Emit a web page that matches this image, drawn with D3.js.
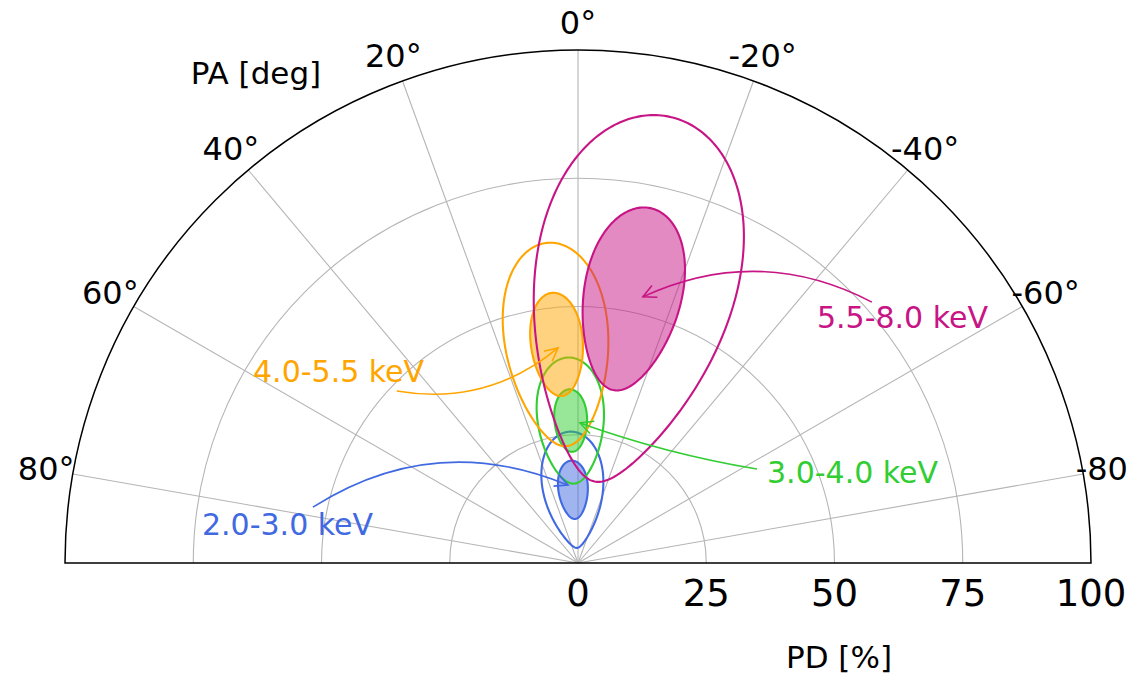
<!DOCTYPE html>
<html>
<head>
<meta charset="utf-8">
<script src="https://cdn.jsdelivr.net/npm/d3@7"></script>
<style>
  html, body { margin: 0; padding: 0; background: #fff; }
  svg { display: block; font-family: "DejaVu Sans", "Liberation Sans", sans-serif; }
</style>
</head>
<body>
<svg id="chart" width="1127" height="675"></svg>
<script>
// ---- data -------------------------------------------------------------
// energy bands and their colours
const bands = ["2.0-3.0 keV", "3.0-4.0 keV", "4.0-5.5 keV", "5.5-8.0 keV"];
const bandColors = ["royalblue", "limegreen", "orange", "mediumvioletred"];

// best-fit polarization degree [%] and angle [deg] per band
const pdBest = [14.3, 27.8, 42.8, 52.5];
const paBest = [3.8, 2.9, 5.5, -11.5];
// contour radii in Q/U space [%]: 68% (filled) and 99% (line), along PD
const sigma68 = [5.7, 6.1, 10.1, 18.1];
const sigma99 = [11.35, 12.3, 19.9, 36.3];
// ratio of the error across the PD direction to the error along it
const sigmaRatio = [1.0, 1.04, 1.0, 1.04];

// annotation arrows (PD, PA): arrow tip, arrow tail, label anchor (left, baseline)
const tipPD   = [15.3, 27.3, 42.1, 53.4];
const tipPA   = [7.3, -0.8, 5.3, -13.7];
const tailPD  = [52.8, 39.4, 48.7, 76.6];
const tailPA  = [78.1, -62.3, 46.5, -48.4];
const labelPD = [73.5, 40.0, 72.5, 65.3];
const labelPA = [85.7, -67.1, 60.9, -45.5];
const arcRad  = [-0.26, -0.045, 0.23, 0.245];

// axis ticks
const paTicks = [-80, -60, -40, -20, 0, 20, 40, 60, 80];
const pdTicks = [0, 25, 50, 75, 100];
const pdGrid  = [25, 50, 75];

// ---- layout -----------------------------------------------------------
const cx = 578, cy = 563, R = 513;
const svg = d3.select("#chart");
const rScale = d3.scaleLinear().domain([0, 100]).range([0, R]);
const aScale = d3.scaleLinear().domain([-180, 180]).range([Math.PI, -Math.PI]); // PA -> d3 angle (positive PA to the left)

// PD/PA -> screen coordinates
function toXY(pd, pa) {
  const r = rScale(pd), a = aScale(pa);
  return [cx + r * Math.sin(a), cy - r * Math.cos(a)];
}

const g = svg.append("g").attr("transform", `translate(${cx},${cy})`);

// ---- grid -------------------------------------------------------------
const gridColor = "#b5b5b5";
g.selectAll("path.ring").data(pdGrid).join("path")
  .attr("class", "ring")
  .attr("d", v => { const p = d3.path(); p.arc(0, 0, rScale(v), -Math.PI, 0); return p.toString(); })
  .attr("fill", "none").attr("stroke", gridColor).attr("stroke-width", 1.1);

g.selectAll("line.spoke").data(paTicks).join("line")
  .attr("class", "spoke")
  .attr("x1", 0).attr("y1", 0)
  .attr("x2", d => rScale(100) * Math.sin(aScale(d)))
  .attr("y2", d => -rScale(100) * Math.cos(aScale(d)))
  .attr("stroke", gridColor).attr("stroke-width", 1.1);

// ---- confidence contours -------------------------------------------------
// an ellipse around the best fit in the Q/U plane, mapped back to (PD, PA)
const tSteps = d3.range(0, 360, 1.5);
const radial = d3.lineRadial()
  .angle(d => aScale(d[1]))
  .radius(d => rScale(d[0]))
  .curve(d3.curveLinearClosed);

function quContour(pd0, pa0, s, k) {
  return tSteps.map(t => {
    const a = t * Math.PI / 180;
    const q = pd0 + s * Math.cos(a), u = s * k * Math.sin(a);
    return [Math.hypot(q, u), pa0 + Math.atan2(u, q) * 90 / Math.PI];
  });
}

bands.forEach((b, i) => {
  const col = bandColors[i];
  const c = d3.color(col);
  g.append("path")
    .attr("d", radial(quContour(pdBest[i], paBest[i], sigma68[i], sigmaRatio[i])))
    .attr("fill", c.copy({opacity: 0.5}).formatRgb())
    .attr("stroke", col).attr("stroke-width", 2.1);
  g.append("path")
    .attr("d", radial(quContour(pdBest[i], paBest[i], sigma99[i], sigmaRatio[i])))
    .attr("fill", "none")
    .attr("stroke", col).attr("stroke-width", 2.1);
});

// ---- outer frame --------------------------------------------------------
const frame = d3.path();
frame.moveTo(-rScale(100), 0);
frame.arc(0, 0, rScale(100), -Math.PI, 0);
frame.closePath();
g.append("path").attr("d", frame.toString())
  .attr("fill", "none").attr("stroke", "#000").attr("stroke-width", 1.5);

// ---- annotations (arc3-style curved arrows) -----------------------------
bands.forEach((b, i) => {
  const col = bandColors[i];
  const S = toXY(tailPD[i], tailPA[i]);
  const E = toXY(tipPD[i], tipPA[i]);
  const dx = E[0] - S[0], dy = E[1] - S[1];
  const C = [(S[0] + E[0]) / 2 - arcRad[i] * dy, (S[1] + E[1]) / 2 + arcRad[i] * dx];
  const p = d3.path();
  p.moveTo(S[0], S[1]);
  p.quadraticCurveTo(C[0], C[1], E[0], E[1]);
  svg.append("path").attr("d", p.toString())
    .attr("fill", "none").attr("stroke", col).attr("stroke-width", 1.6);
  // open arrow head along the tangent at the tip
  const tx = E[0] - C[0], ty = E[1] - C[1];
  const L = Math.hypot(tx, ty), ux = tx / L, uy = ty / L;
  const hl = 13, hw = 6.5;
  const h = d3.path();
  h.moveTo(E[0] - ux * hl - uy * hw, E[1] - uy * hl + ux * hw);
  h.lineTo(E[0], E[1]);
  h.lineTo(E[0] - ux * hl + uy * hw, E[1] - uy * hl - ux * hw);
  svg.append("path").attr("d", h.toString())
    .attr("fill", "none").attr("stroke", col).attr("stroke-width", 1.6)
    .attr("stroke-linejoin", "miter");
  const Lp = toXY(labelPD[i], labelPA[i]);
  svg.append("text").attr("x", Lp[0]).attr("y", Lp[1])
    .attr("fill", col).attr("font-size", 30)
    .text(b);
});

// ---- tick labels --------------------------------------------------------
g.selectAll("text.pa").data(paTicks).join("text")
  .attr("class", "pa")
  .attr("x", d => (R + 27) * Math.sin(aScale(d)))
  .attr("y", d => -(R + 27) * Math.cos(aScale(d)))
  .attr("text-anchor", "middle").attr("dominant-baseline", "central")
  .attr("font-size", 32).attr("fill", "#000")
  .text(d => `${d}°`);

g.selectAll("text.pd").data(pdTicks).join("text")
  .attr("class", "pd")
  .attr("x", d => rScale(d))
  .attr("y", 43)
  .attr("text-anchor", "middle")
  .attr("font-size", 37).attr("fill", "#000")
  .text(d => d);

// ---- axis titles --------------------------------------------------------
svg.append("text").attr("x", 256).attr("y", 84)
  .attr("text-anchor", "middle").attr("font-size", 31).attr("fill", "#000")
  .text("PA [deg]");
svg.append("text").attr("x", 839).attr("y", 668)
  .attr("text-anchor", "middle").attr("font-size", 31).attr("fill", "#000")
  .text("PD [%]");
</script>
</body>
</html>
